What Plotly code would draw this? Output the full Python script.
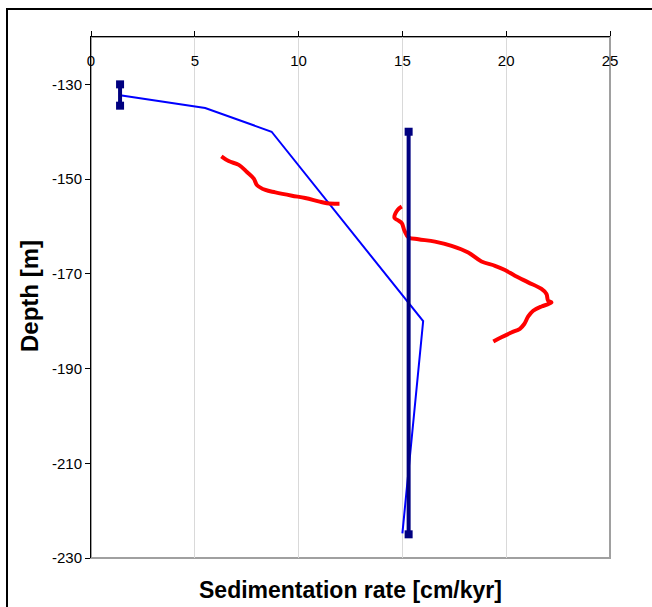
import plotly.graph_objects as go

# Dated intervals (navy bars with square end markers)
interval1_rate = [1.4, 1.4]
interval1_depth = [-130.0, -134.5]
interval2_rate = [15.3, 15.3]
interval2_depth = [-140.0, -225.0]

# Blue model line
model_rate = [1.4, 5.5, 8.7, 16.0, 15.0]
model_depth = [-132.3, -135.0, -140.0, -180.0, -224.8]

# Red curve, upper segment
red1_rate = [6.28, 6.63, 7.12, 7.51, 7.84, 8.0, 8.40, 8.88, 9.68, 10.32, 10.96, 11.36, 11.97]
red1_depth = [-145.2, -146.2, -147.0, -148.5, -149.9, -151.3, -152.3, -152.8, -153.5, -154.0, -154.7, -155.1, -155.2]

# Red curve, lower segment
red2_rate = [14.97, 14.77, 14.62, 14.81, 14.97, 15.10, 15.29, 15.77, 16.57, 17.37, 18.17, 18.81,
             19.46, 19.94, 20.42, 21.06, 21.70, 21.94, 22.02, 22.18, 22.02, 21.70, 21.30, 21.06,
             20.87, 20.66, 20.25, 19.77, 19.38]
red2_depth = [-155.8, -156.5, -158.2, -158.75, -159.3, -160.9, -162.3, -162.7, -163.2, -164.1,
              -165.5, -167.4, -168.3, -169.2, -170.4, -171.8, -173.2, -174.25, -175.7, -176.0,
              -176.4, -176.9, -177.8, -179.0, -180.6, -181.6, -182.4, -183.4, -184.3]

x_ticks = [0, 5, 10, 15, 20, 25]
y_ticks = [-130, -150, -170, -190, -210, -230]
y_ticktext = ["-130", "-150", "-170", "-190", "-210", "-230"]

NAVY = "#000080"
FONT = "Liberation Sans, Arial, sans-serif"

fig = go.Figure()
fig.add_trace(go.Scatter(x=model_rate, y=model_depth, mode="lines",
                         line=dict(color="#0000FF", width=2)))
fig.add_trace(go.Scatter(x=red1_rate, y=red1_depth, mode="lines",
                         line=dict(color="#FF0000", width=4, shape="spline")))
fig.add_trace(go.Scatter(x=red2_rate, y=red2_depth, mode="lines",
                         line=dict(color="#FF0000", width=4, shape="spline")))
for xs, ys in [(interval1_rate, interval1_depth), (interval2_rate, interval2_depth)]:
    fig.add_trace(go.Scatter(x=xs, y=ys, mode="lines+markers",
                             line=dict(color=NAVY, width=4),
                             marker=dict(symbol="square", size=8, color=NAVY)))
# carrier for the label axis
fig.add_trace(go.Scatter(x=[None], y=[None], xaxis="x2", mode="markers",
                         hoverinfo="skip", showlegend=False))

L, R, T, B = 91, 42, 37, 49
W, H = 652, 607
pw, ph = W - L - R, H - T - B

fig.update_layout(
    width=W, height=H,
    margin=dict(l=L, r=R, t=T, b=B, pad=0),
    paper_bgcolor="white", plot_bgcolor="white",
    showlegend=False,
    font=dict(family=FONT, size=15, color="black"),
    xaxis=dict(range=[0, 25], side="top", tickvals=x_ticks,
               ticks="outside", ticklen=5, tickcolor="black",
               showticklabels=False,
               showline=True, linecolor="black", linewidth=1,
               showgrid=True, gridcolor="#D9D9D9", gridwidth=1,
               zeroline=False, fixedrange=True),
    xaxis2=dict(range=[0, 25], overlaying="x", anchor="free",
                position=(H - B - 69) / ph, side="top",
                tickvals=x_ticks, ticks="", showline=False, showgrid=False,
                zeroline=False, fixedrange=True,
                tickfont=dict(family=FONT, size=15, color="black")),
    yaxis=dict(range=[-230, -120], tickvals=y_ticks, ticktext=y_ticktext,
               ticks="outside", ticklen=5, tickcolor="black",
               showline=True, linecolor="black", linewidth=1,
               showgrid=False, zeroline=False, fixedrange=True),
    shapes=[
        dict(type="rect", xref="paper", yref="paper", x0=0, x1=1, y0=0, y1=1,
             line=dict(color="#A0A0A0", width=2), layer="below"),
        dict(type="rect", xref="paper", yref="paper",
             x0=(7 - L) / pw, x1=(W + 20 - L) / pw,
             y0=-(H + 20 - (H - B)) / ph, y1=((H - B) - 9) / ph,
             line=dict(color="black", width=2), layer="below"),
    ],
    annotations=[
        dict(text="<b>Sedimentation rate [cm/kyr]</b>", xref="paper", yref="paper",
             x=0.5, y=-(590 - (H - B)) / ph, xanchor="center", yanchor="middle",
             showarrow=False, font=dict(family=FONT, size=23)),
        dict(text="<b>Depth [m]</b>", xref="paper", yref="paper",
             x=(29 - L) / pw, y=(558 - 296) / ph, xanchor="center", yanchor="middle",
             textangle=-90, showarrow=False, font=dict(family=FONT, size=24)),
    ],
)

fig.write_html("out.html")
